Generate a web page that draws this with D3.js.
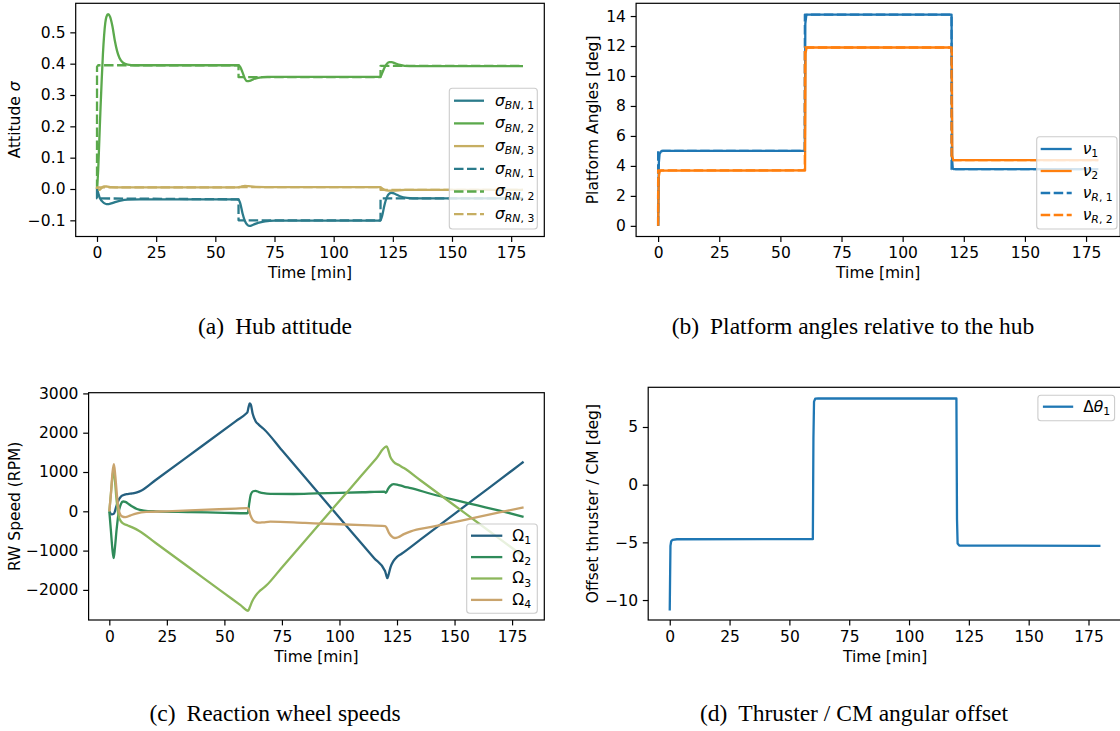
<!DOCTYPE html>
<html><head><meta charset="utf-8">
<script src="https://cdn.jsdelivr.net/npm/d3@7"></script>
<style>
body{margin:0;background:#fff}
svg{display:block}
</style>
</head><body>
<script>
// ---------------- DATA ----------------
const timeTicks = [0, 25, 50, 75, 100, 125, 150, 175];

// (a) Hub attitude  [time min, sigma]
const sigmaBN1 = [[0,0],[0.5,-0.012],[1,-0.025],[2,-0.038],[3,-0.045],[4,-0.048],[5,-0.048],[6,-0.046],[8,-0.041],[10,-0.037],[13,-0.034],[18,-0.033],[59.7,-0.033],[60.5,-0.045],[61.5,-0.078],[62.5,-0.102],[63.5,-0.114],[64.5,-0.118],[66,-0.114],[68,-0.108],[71,-0.103],[75,-0.101],[119.7,-0.101],[120.5,-0.085],[121.5,-0.05],[122.5,-0.026],[123.5,-0.015],[124.5,-0.012],[126,-0.016],[128,-0.023],[131,-0.028],[136,-0.03],[180,-0.03]];
const sigmaBN2 = [[0,0],[0.5,0.06],[1,0.16],[1.5,0.26],[2,0.35],[2.5,0.43],[3,0.49],[3.5,0.53],[4,0.55],[4.7,0.558],[5.5,0.55],[6.5,0.52],[7.5,0.475],[8.5,0.44],[9.5,0.418],[11,0.403],[13,0.397],[16,0.395],[59.7,0.395],[60.5,0.39],[61.5,0.372],[62.5,0.352],[63.5,0.344],[64.5,0.345],[66,0.35],[68,0.355],[72,0.358],[119.7,0.358],[120.5,0.37],[121.5,0.388],[122.5,0.4],[123.5,0.405],[124.5,0.405],[126,0.401],[128,0.396],[132,0.392],[180,0.392]];
const sigmaBN3 = [[0,0],[1,-0.003],[2,0.004],[3,0.008],[4,0.008],[6,0.006],[10,0.005],[59.7,0.005],[61,0.008],[62.5,0.01],[64,0.009],[67,0.007],[75,0.006],[119.7,0.006],[120.5,0.002],[121.5,-0.003],[123,-0.005],[125,-0.005],[130,-0.003],[180,-0.003]];
const sigmaRN1 = [[0,0],[0.01,-0.03],[59.8,-0.033],[59.81,-0.1],[119.8,-0.1],[119.81,-0.03],[180,-0.03]];
const sigmaRN2 = [[0,0],[0.01,0.39],[0.5,0.395],[59.8,0.395],[59.81,0.357],[119.8,0.357],[119.81,0.393],[180,0.393]];
const sigmaRN3 = [[0,0],[0.01,0.005],[59.8,0.005],[59.81,0.006],[119.8,0.006],[119.81,-0.003],[180,-0.003]];

// (b) Platform angles [time min, deg]
const nu1  = [[0,0],[0.3,4.2],[0.6,4.8],[1.2,4.97],[2,5.0],[60,5.0],[60.2,13.5],[60.6,14.05],[61,14.1],[120,14.1],[120.2,4.5],[120.5,3.82],[121,3.78],[180,3.78]];
const nu2  = [[0,0],[0.3,3.3],[0.6,3.6],[1.2,3.68],[60.1,3.7],[60.3,11.5],[60.7,11.88],[61,11.9],[120.1,11.9],[120.3,4.7],[120.6,4.4],[121,4.38],[180,4.38]];
const nuR1 = [[0,0],[0.01,5.0],[60,5.0],[60.01,14.1],[120,14.1],[120.01,3.78],[180,3.78]];
const nuR2 = [[0,0],[0.01,3.7],[60,3.7],[60.01,11.9],[120,11.9],[120.01,4.38],[180,4.38]];

// (c) Reaction wheel speeds [time min, RPM]
const omega1 = [[0,0],[1,-80],[2,-60],[3,120],[4,280],[5,370],[6,410],[8,440],[10,455],[12,480],[14,530],[20,790],[40,1650],[55,2296],[59.5,2490],[60,2520],[60.5,2650],[61,2745],[61.5,2710],[62.3,2480],[63.5,2300],[65,2200],[67,2100],[75,1551],[90,523],[105,-505],[115,-1191],[119.8,-1520],[120.3,-1620],[120.8,-1700],[121.3,-1620],[122.2,-1420],[123.5,-1260],[125,-1160],[127,-1080],[135,-727],[150,-65],[165,598],[175,1039],[180,1260]];
const omega2 = [[0,0],[0.7,-500],[1.4,-1000],[1.9,-1190],[2.4,-950],[3.2,-450],[4,-50],[5,180],[6,250],[7,240],[8.5,180],[10,120],[12,60],[15,20],[20,0],[35,-19],[50,-38],[59.5,-50],[60.2,-40],[60.8,200],[61.5,430],[62.5,510],[63.5,520],[65,490],[67,460],[70,445],[80,440],[90,455],[100,470],[110,485],[119.5,500],[120.2,470],[121,560],[122,640],[123.5,690],[125,680],[128,630],[131,590],[140,440],[150,290],[160,150],[170,10],[180,-140]];
const omega3 = [[0,0],[0.7,450],[1.4,900],[1.9,1050],[2.4,800],[3.2,250],[4,-100],[5,-250],[6,-310],[8,-360],[10,-410],[13,-500],[20,-800],[35,-1444],[50,-2088],[57,-2388],[60.3,-2530],[61,-2450],[62,-2300],[63.5,-2150],[65.5,-2020],[68,-1900],[75,-1427],[90,-412],[105,602],[116,1346],[120.5,1650],[121.2,1560],[122,1400],[123.5,1260],[126,1170],[128,1100],[135,797],[150,148],[165,-501],[175,-934],[180,-1150]];
const omega4 = [[0,0],[0.7,450],[1.4,1000],[2,1200],[2.6,900],[3.5,300],[4.5,-50],[5.5,-130],[7,-150],[9,-110],[12,-50],[16,-15],[25,0],[40,34],[55,69],[59.8,80],[60.5,60],[61.3,-100],[62.3,-220],[63.5,-270],[65,-290],[67,-280],[70,-265],[85,-297],[100,-330],[110,-352],[119.8,-375],[120.5,-420],[121.5,-550],[122.7,-640],[124,-680],[125.5,-660],[128,-580],[131,-510],[140,-398],[155,-211],[170,-24],[180,100]];

// (d) Thruster / CM angular offset [time min, deg]
const dTheta1 = [[0,-10.9],[0.15,-8],[0.3,-5.3],[0.6,-4.9],[1.2,-4.78],[3,-4.73],[59.8,-4.72],[60.05,4],[60.3,7.2],[60.8,7.45],[62,7.47],[119.8,7.47],[120.05,-3],[120.3,-5.1],[121,-5.28],[180,-5.3]];

const yTicksA = [-0.1, 0.0, 0.1, 0.2, 0.3, 0.4, 0.5];
const yTicksB = [0, 2, 4, 6, 8, 10, 12, 14];
const yTicksC = [-2000, -1000, 0, 1000, 2000, 3000];
const yTicksD = [-10, -5, 0, 5];

// ---------------- DRAW ----------------
const FS = 15.5;
const svg = d3.select("body").append("svg").attr("width", 1120).attr("height", 731)
  .attr("font-family", "DejaVu Sans");

function rich(textSel, parts) {
  let inSub = false;
  parts.forEach(([str, st]) => {
    const sub = st.includes("s");
    const ts = textSel.append("tspan").text(str);
    if (st.includes("i")) ts.attr("font-style", "italic");
    if (sub) {
      ts.attr("font-size", "0.7em");
      if (!inSub) { ts.attr("dy", "0.32em"); inSub = true; }
    } else if (inSub) { ts.attr("dy", "-0.224em"); inSub = false; }
  });
}

const solidSmooth = d3.curveMonotoneX;

function panel(cfg) {
  const g = svg.append("g");
  const x = d3.scaleLinear().domain([-9, 189]).range([cfg.l, cfg.r]);
  const y = d3.scaleLinear().domain(cfg.yd).range([cfg.b, cfg.t]);
  const cid = "clip" + cfg.id;
  svg.append("clipPath").attr("id", cid).append("rect")
    .attr("x", cfg.l).attr("y", cfg.t).attr("width", cfg.r - cfg.l).attr("height", cfg.b - cfg.t);

  const lines = g.append("g").attr("clip-path", `url(#${cid})`);
  cfg.series.forEach(s => {
    const line = d3.line().x(d => x(d[0])).y(d => y(d[1])).curve(s.curve || d3.curveLinear);
    lines.append("path").datum(s.data).attr("d", line)
      .attr("fill", "none").attr("stroke", s.color).attr("stroke-width", 2.3)
      .attr("stroke-linejoin", "round")
      .attr("stroke-dasharray", s.dash ? "9.5,3.5" : null);
  });

  const ax = g.append("g").attr("transform", `translate(0,${cfg.b})`)
    .call(d3.axisBottom(x).tickValues(timeTicks).tickFormat(d3.format("d")).tickSize(5.4).tickPadding(5.4).tickSizeOuter(0));
  const ay = g.append("g").attr("transform", `translate(${cfg.l},0)`)
    .call(d3.axisLeft(y).tickValues(cfg.yticks).tickFormat(d3.format(cfg.fmt)).tickSize(5.4).tickPadding(4.8).tickSizeOuter(0));
  [ax, ay].forEach(a => {
    a.select(".domain").remove();
    a.attr("font-size", FS).attr("font-family", "DejaVu Sans");
    a.selectAll("line").attr("stroke", "#000").attr("stroke-width", 1.2);
    a.selectAll("text").attr("fill", "#000");
  });

  g.append("rect").attr("x", cfg.l).attr("y", cfg.t).attr("width", cfg.r - cfg.l).attr("height", cfg.b - cfg.t)
    .attr("fill", "none").attr("stroke", "#000").attr("stroke-width", 1.2);

  g.append("text").attr("x", (cfg.l + cfg.r) / 2).attr("y", cfg.b + 41.5)
    .attr("text-anchor", "middle").attr("font-size", FS).text("Time [min]");
  const yl = g.append("text").attr("transform", `translate(${cfg.ylx},${(cfg.t + cfg.b) / 2}) rotate(-90)`)
    .attr("text-anchor", "middle").attr("dominant-baseline", "central").attr("font-size", FS);
  rich(yl, cfg.ylabel);

  const L = cfg.legend;
  const lg = g.append("g");
  lg.append("rect").attr("x", L.x0).attr("y", L.y0).attr("width", L.x1 - L.x0).attr("height", L.y1 - L.y0)
    .attr("rx", 3).attr("fill", "#fff").attr("fill-opacity", 0.8).attr("stroke", "#cccccc").attr("stroke-width", 1.1);
  cfg.series.forEach((s, i) => {
    const ry = L.row0 + i * L.step;
    lg.append("line").attr("x1", L.h0).attr("x2", L.h1).attr("y1", ry).attr("y2", ry)
      .attr("stroke", s.color).attr("stroke-width", 2.3)
      .attr("stroke-dasharray", s.dash ? "9.5,3.5" : null);
    const t = lg.append("text").attr("x", L.tx).attr("y", ry + 4.8).attr("font-size", FS);
    rich(t, s.label);
  });

  const cap = svg.append("text").attr("x", cfg.capx).attr("y", cfg.capy).attr("text-anchor", "middle")
    .attr("font-family", "Liberation Serif").attr("font-size", 23.5).attr("fill", "#000");
  cap.append("tspan").text(cfg.cap[0]);
  cap.append("tspan").attr("dx", 11).text(cfg.cap[1]);
}

const cA = ["#2b7b8b", "#5ba94c", "#c6ae62"];
panel({
  id: "a", l: 75.7, r: 544.3, t: 3.3, b: 236.5, yd: [-0.1516, 0.5927], yticks: yTicksA, fmt: ".1f",
  ylx: 14.5, ylabel: [["Attitude ", ""], ["σ", "i"]],
  series: [
    {data: sigmaBN1, color: cA[0], curve: solidSmooth, label: [["σ","i"],["BN","si"],[", 1","s"]]},
    {data: sigmaBN2, color: cA[1], curve: solidSmooth, label: [["σ","i"],["BN","si"],[", 2","s"]]},
    {data: sigmaBN3, color: cA[2], curve: solidSmooth, label: [["σ","i"],["BN","si"],[", 3","s"]]},
    {data: sigmaRN1, color: cA[0], dash: true, label: [["σ","i"],["RN","si"],[", 1","s"]]},
    {data: sigmaRN2, color: cA[1], dash: true, label: [["σ","i"],["RN","si"],[", 2","s"]]},
    {data: sigmaRN3, color: cA[2], dash: true, label: [["σ","i"],["RN","si"],[", 3","s"]]}
  ],
  legend: {x0: 449.3, x1: 537.3, y0: 88.3, y1: 229, row0: 100.7, step: 22.7, h0: 454, h1: 484, tx: 495},
  capx: 275, capy: 334, cap: ["(a)", "Hub attitude"]
});

const cB = ["#1f77b4", "#ff7f0e"];
panel({
  id: "b", l: 636.1, r: 1120.3, t: 3.3, b: 236.5, yd: [-0.71, 14.85], yticks: yTicksB, fmt: "d",
  ylx: 593, ylabel: [["Platform Angles [deg]", ""]],
  series: [
    {data: nu1, color: cB[0], label: [["ν","i"],["1","s"]]},
    {data: nu2, color: cB[1], label: [["ν","i"],["2","s"]]},
    {data: nuR1, color: cB[0], dash: true, label: [["ν","i"],["R","si"],[", 1","s"]]},
    {data: nuR2, color: cB[1], dash: true, label: [["ν","i"],["R","si"],[", 2","s"]]}
  ],
  legend: {x0: 1036.7, x1: 1117, y0: 136.7, y1: 229, row0: 149, step: 22, h0: 1040.7, h1: 1071.7, tx: 1082.7},
  capx: 853, capy: 334, cap: ["(b)", "Platform angles relative to the hub"]
});

const cC = ["#245f7f", "#2f8b5a", "#8cb75b", "#c9a46d"];
panel({
  id: "c", l: 88.6, r: 544.3, t: 392.7, b: 620, yd: [-2766, 3018], yticks: yTicksC, fmt: "d",
  ylx: 15, ylabel: [["RW Speed (RPM)", ""]],
  series: [
    {data: omega1, color: cC[0], curve: solidSmooth, label: [["Ω",""],["1","s"]]},
    {data: omega2, color: cC[1], curve: solidSmooth, label: [["Ω",""],["2","s"]]},
    {data: omega3, color: cC[2], curve: solidSmooth, label: [["Ω",""],["3","s"]]},
    {data: omega4, color: cC[3], curve: solidSmooth, label: [["Ω",""],["4","s"]]}
  ],
  legend: {x0: 466.7, x1: 537.3, y0: 524, y1: 613.3, row0: 535.7, step: 21.4, h0: 471, h1: 502.3, tx: 512.3},
  capx: 275, capy: 721, cap: ["(c)", "Reaction wheel speeds"]
});

panel({
  id: "d", l: 648.2, r: 1122, t: 387.3, b: 620, yd: [-11.73, 8.44], yticks: yTicksD, fmt: "d",
  ylx: 593, ylabel: [["Offset thruster / CM [deg]", ""]],
  series: [
    {data: dTheta1, color: cB[0], label: [["Δ",""],["θ","i"],["1","s"]]}
  ],
  legend: {x0: 1037.9, x1: 1114.6, y0: 395.3, y1: 420.7, row0: 406.7, step: 21, h0: 1042.9, h1: 1073.2, tx: 1083.2},
  capx: 854, capy: 721, cap: ["(d)", "Thruster / CM angular offset"]
});
</script>
</body></html>
